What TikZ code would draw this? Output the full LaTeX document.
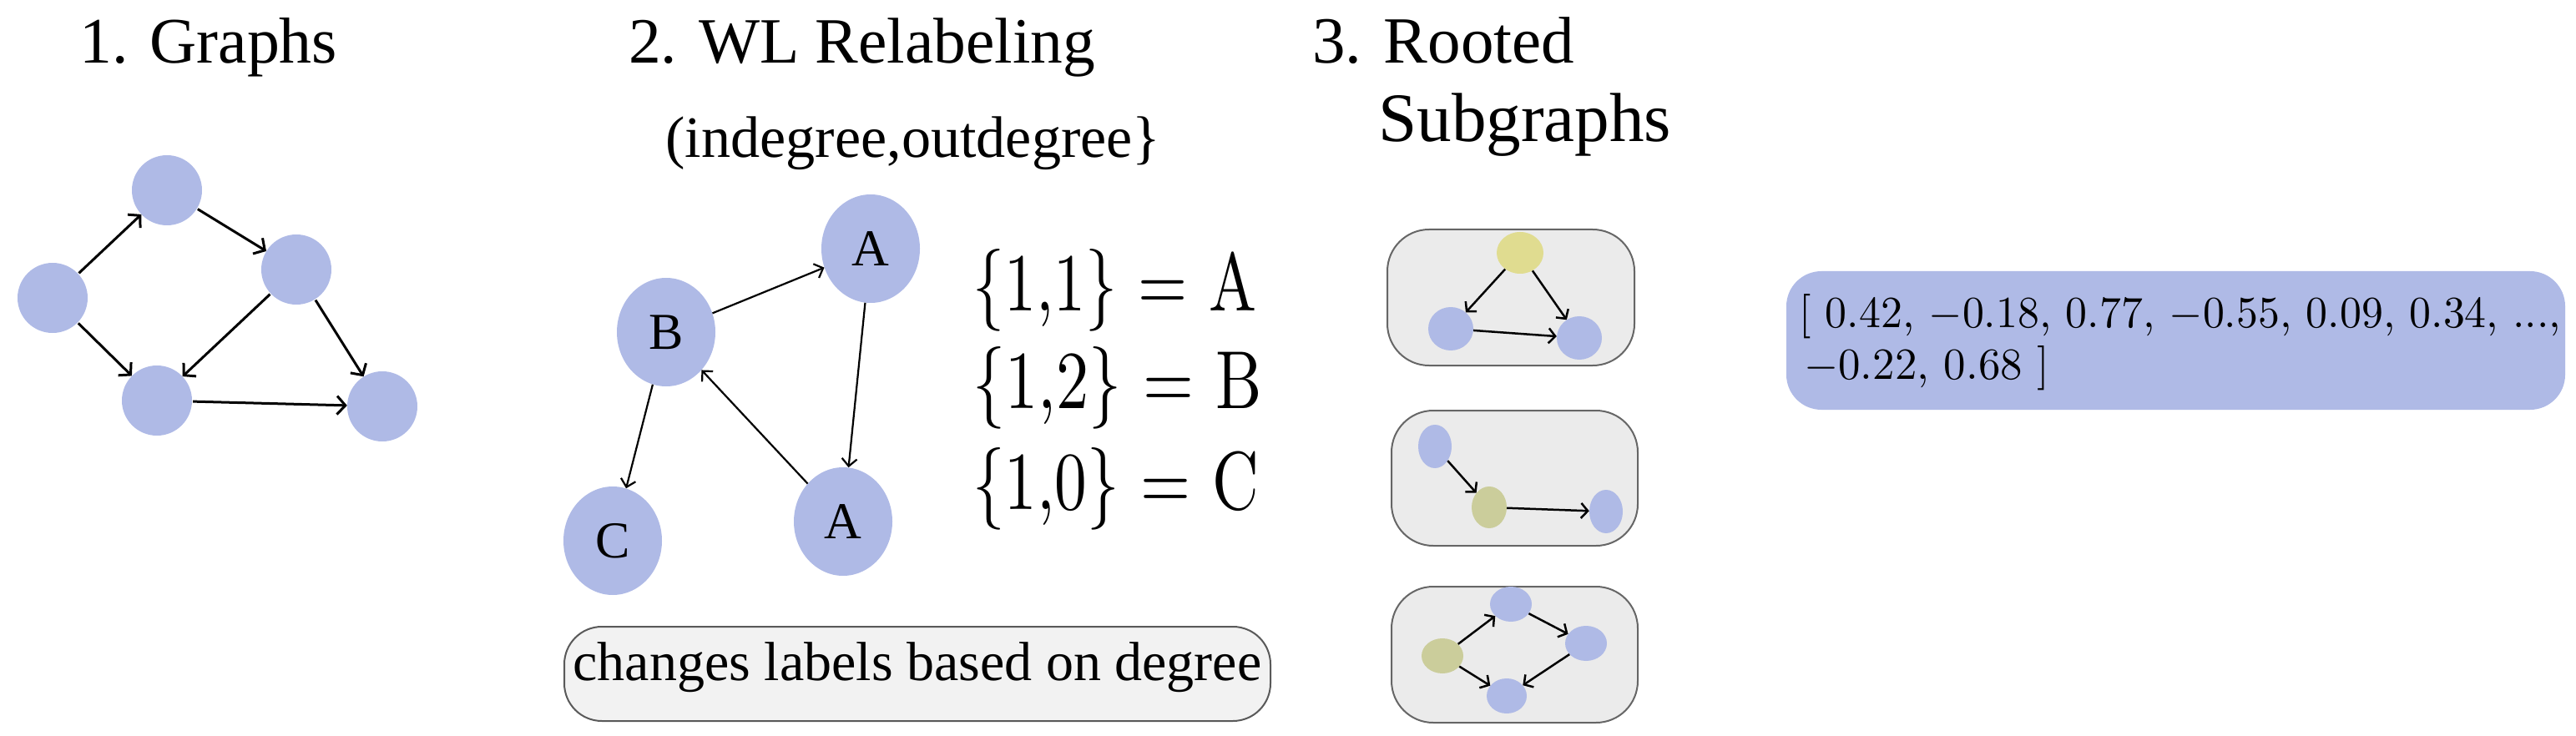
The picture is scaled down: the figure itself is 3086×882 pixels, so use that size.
\documentclass[tikz,border=0pt]{standalone}
\usepackage{fontspec}
\usetikzlibrary{shapes.geometric,arrows.meta}
\newfontfamily\ser{Liberation Serif}
\definecolor{nb}{HTML}{AFBAE6}
\definecolor{ny}{HTML}{E0DC90}
\definecolor{no}{HTML}{CBCD9B}
\definecolor{bx}{HTML}{EBEBEB}
\begin{document}
\begin{tikzpicture}[x=1pt,y=-1pt,
  nd/.style={ellipse,fill=#1,draw=none,inner sep=0pt},
  c/.style 2 args={nd=nb,minimum width=#1pt,minimum height=#2pt},
  e1/.style={line width=3pt,-{Straight Barb[length=10pt,width=22pt,line width=3pt]},shorten <=1pt},
  e2/.style={line width=2.2pt,-{Straight Barb[length=9pt,width=18pt,line width=2.2pt]}},
  e3/.style={line width=2.5pt,-{Straight Barb[length=8pt,width=18pt,line width=2.5pt]}},
  sbox/.style={draw=black!60,line width=2pt,fill=bx,rounded corners=50pt},
  ttl/.style={anchor=base west,inner sep=0pt,font=\ser\fontsize{80}{96}\selectfont},
  lab/.style={font=\ser\fontsize{62}{70}\selectfont}]
\useasboundingbox (0,0) rectangle (3086,882);
% titles
\node[ttl] (t1) at (95,76) {\resizebox{309pt}{!}{1. Graphs}};
\node[ttl] (t2) at (753,76) {\resizebox{559pt}{!}{2. WL Relabeling}};
\node[ttl] (t3a) at (1572,76) {\resizebox{314pt}{!}{3. Rooted}};
\node[ttl] (t3b) at (1651,170) {\resizebox{351pt}{!}{Subgraphs}};
% graph 1
\node[nd=nb,minimum width=84pt,minimum height=84pt] (g1) at (63,357) {};
\node[nd=nb,minimum width=84pt,minimum height=84pt] (g2) at (200,228) {};
\node[nd=nb,minimum width=84pt,minimum height=84pt] (g3) at (355,323) {};
\node[nd=nb,minimum width=84pt,minimum height=84pt] (g4) at (188,480) {};
\node[nd=nb,minimum width=84pt,minimum height=84pt] (g5) at (458,487) {};
\draw[e1] (g1) -- (g2);
\draw[e1] (g2) -- (g3);
\draw[e1] (g1) -- (g4);
\draw[e1] (g3) -- (g4);
\draw[e1] (g3) -- (g5);
\draw[e1] (g4) -- (g5);
% graph 2
\node[anchor=center,inner sep=0pt] (sub) at (1094,172) {\resizebox{593pt}{!}{\ser\fontsize{60}{70}\selectfont (indegree,outdegree\}}};
\node[c={118}{130},lab] (A1) at (1043,298) {A};
\node[c={118}{130},lab] (B) at (798,398) {B};
\node[c={118}{130},lab] (C) at (734,648) {C};
\node[c={118}{130},lab] (A2) at (1010,625) {A};
\draw[e2] (B) -- (A1);
\draw[e2] (A1) -- (A2);
\draw[e2] (B) -- (C);
\draw[e2] (A2) -- (B);
\node[anchor=base west,inner sep=0pt] (q1) at (1165,373) {\resizebox{340pt}{74pt}{\{1,1\} = A}};
\node[anchor=base west,inner sep=0pt] (q2) at (1165,489) {\resizebox{347pt}{74pt}{\{1,2\} = B}};
\node[anchor=base west,inner sep=0pt] (q3) at (1165,610) {\resizebox{343pt}{74pt}{\{1,0\} = C}};
\node[draw=black!65,line width=2pt,fill=black!5,rounded corners=45pt,minimum width=846pt,minimum height=113pt,inner sep=0pt] (chg) at (1099,807.5) {};
\node[inner sep=0pt] (chgt) at (1099,800) {\resizebox{825pt}{!}{\ser\fontsize{60}{70}\selectfont changes labels based on degree}};
% subgraphs
\node[sbox,minimum width=296pt,minimum height=163pt] (b1) at (1810,356.5) {};
\node[sbox,minimum width=295pt,minimum height=162pt] (b2) at (1814.5,573) {};
\node[sbox,minimum width=295pt,minimum height=163pt] (b3) at (1814.5,784.5) {};
\node[nd=ny,minimum width=56pt,minimum height=50pt] (s1y) at (1821,303) {};
\node[c={54}{52}] (s1l) at (1738,394) {};
\node[c={54}{52}] (s1r) at (1892,405) {};
\draw[e3] (s1y) -- (s1l);
\draw[e3] (s1y) -- (s1r);
\draw[e3] (s1l) -- (s1r);
\node[c={40}{52}] (s2a) at (1719,535) {};
\node[nd=no,minimum width=42pt,minimum height=50pt] (s2o) at (1784,608) {};
\node[c={40}{52}] (s2b) at (1924,613) {};
\draw[e3] (s2a) -- (s2o);
\draw[e3] (s2o) -- (s2b);
\node[nd=no,minimum width=50pt,minimum height=42pt] (s3o) at (1728,786) {};
\node[c={50}{42}] (s3t) at (1810,724) {};
\node[c={50}{42}] (s3r) at (1900,771) {};
\node[c={48}{42}] (s3b) at (1805,834) {};
\draw[e3] (s3o) -- (s3t);
\draw[e3] (s3t) -- (s3r);
\draw[e3] (s3r) -- (s3b);
\draw[e3] (s3o) -- (s3b);
% vector
\node[fill=nb,rounded corners=42pt,minimum width=933pt,minimum height=166pt,inner sep=0pt] (vec) at (2606.5,408) {};
\node[anchor=base west,inner sep=0pt] (v1) at (2155,392) {\resizebox{913pt}{40pt}{[ 0.42, $-$0.18, 0.77, $-$0.55, 0.09, 0.34, ...,}};
\node[anchor=base west,inner sep=0pt] (v2) at (2161,454) {\resizebox{294pt}{40pt}{$-$0.22, 0.68 ]}};
\end{tikzpicture}
\end{document}
